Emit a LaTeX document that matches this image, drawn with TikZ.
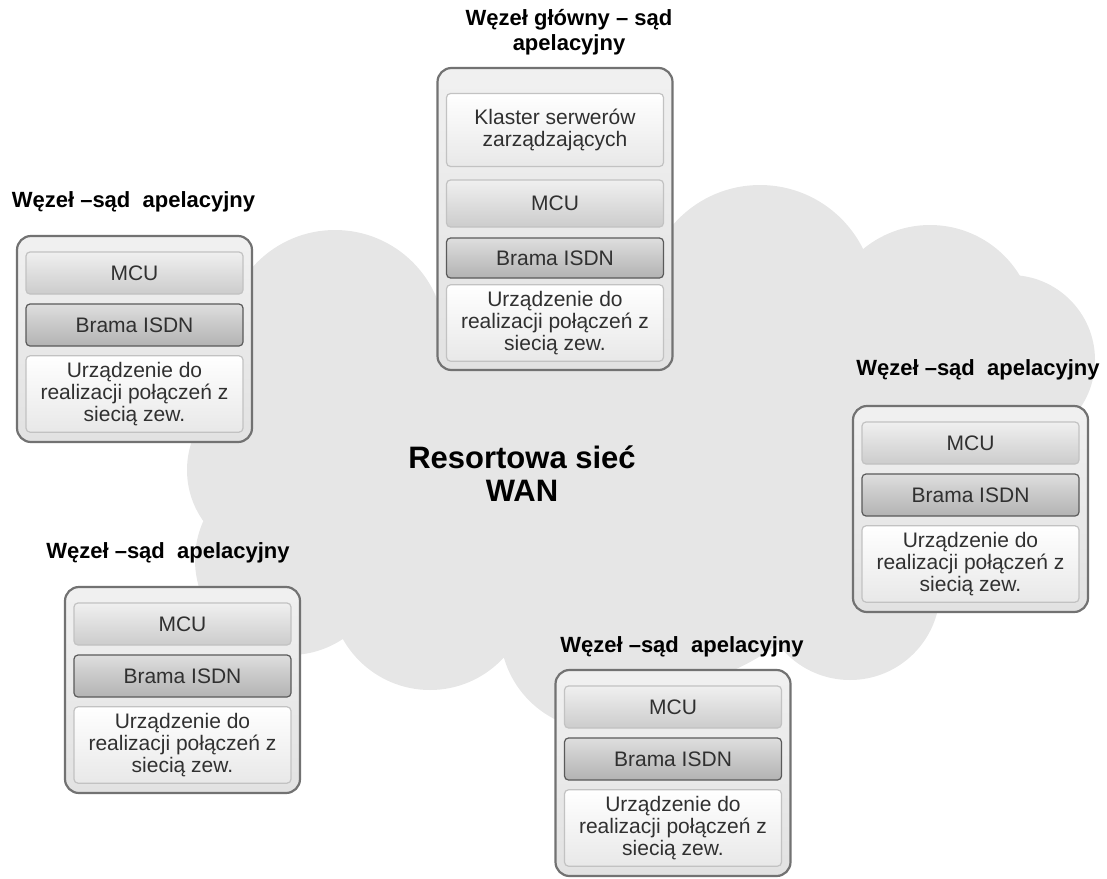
\documentclass[tikz,border=0pt]{standalone}
\usepackage{fontspec}
\setmainfont{Liberation Sans}

\definecolor{chmura}{HTML}{E6E6E6}
\definecolor{ramka}{HTML}{727272}
\definecolor{tlo}{HTML}{E2E2E2}
\definecolor{jasna}{HTML}{C2C2C2}
\definecolor{ciemna}{HTML}{5A5A5A}
\definecolor{napis}{HTML}{303030}

\tikzset{
	tytul/.style={font=\bfseries\fontsize{11}{12.5}\selectfont, align=center},
	wezel/.style={draw=ramka, line width=1.1pt, rounded corners=7pt, top color=tlo!50!white, bottom color=tlo, minimum width=117.5pt},
	blok/.style={draw=jasna, line width=0.6pt, rounded corners=2pt, text=napis, align=center, minimum width=108.5pt, font=\fontsize{10.5}{9.6}\selectfont},
	mcu/.style={blok, top color=white!94!black, bottom color=white!80!black},
	brama/.style={blok, draw=ciemna, top color=white!87!black, bottom color=white!70!black},
	urzadzenie/.style={blok, top color=white, bottom color=white!91!black},
}

\begin{document}
\begin{tikzpicture}[x=0.5pt,y=-0.5pt]
	\useasboundingbox (0,0) rectangle (1107,878);

	% chmura - resortowa siec
	\fill[chmura] (335,340) circle[radius=55pt] (560,300) circle[radius=55pt]
		(760,300) circle[radius=57.5pt] (930,330) circle[radius=52.5pt]
		(1010,360) circle[radius=42.5pt] (980,500) circle[radius=45pt]
		(850,590) circle[radius=45pt] (600,630) circle[radius=50pt]
		(430,590) circle[radius=50pt] (290,560) circle[radius=47.5pt]
		(275,470) circle[radius=44pt] (400,470) circle[radius=45pt]
		(640,460) circle[radius=115pt];

	\node[font=\bfseries\fontsize{15.5}{16.5}\selectfont, align=center] (wan) at (522,474) {Resortowa sieć\\WAN};

	% wezel glowny
	\node[tytul] (glowny-tytul) at (569,32) {Węzeł główny – sąd\\apelacyjny};
	\node[wezel, minimum height=151pt] (glowny) at (555,219) {};
	\node[urzadzenie, minimum height=36.5pt] (glowny-klaster) at (555,130) {Klaster serwerów\\[1pt]zarządzających};
	\node[mcu, minimum height=23.5pt] (glowny-mcu) at (555,203.5) {MCU};
	\node[brama, minimum height=20pt] (glowny-brama) at (555,258) {Brama ISDN};
	\node[urzadzenie, minimum height=37pt] (glowny-urz) at (555,323) {Urządzenie do\\realizacji połączeń z\\siecią zew.};

	% wezel lewy
	\node[tytul] (lewy-tytul) at (133.5,202) {Węzeł –sąd \ apelacyjny};
	\node[wezel, minimum height=103pt] (lewy) at (134.5,339) {};
	\node[mcu, minimum height=21pt] (lewy-mcu) at (134.5,273) {MCU};
	\node[brama, minimum height=21pt] (lewy-brama) at (134.5,325) {Brama ISDN};
	\node[urzadzenie, minimum height=38pt] (lewy-urz) at (134.5,394) {Urządzenie do\\realizacji połączeń z\\siecią zew.};

	% wezel prawy
	\node[tytul] (prawy-tytul) at (978,370) {Węzeł –sąd \ apelacyjny};
	\node[wezel, minimum height=103pt] (prawy) at (970.5,509) {};
	\node[mcu, minimum height=21pt] (prawy-mcu) at (970.5,443) {MCU};
	\node[brama, minimum height=21pt] (prawy-brama) at (970.5,495) {Brama ISDN};
	\node[urzadzenie, minimum height=38pt] (prawy-urz) at (970.5,564) {Urządzenie do\\realizacji połączeń z\\siecią zew.};

	% wezel dolny lewy
	\node[tytul] (dlewy-tytul) at (168,553) {Węzeł –sąd \ apelacyjny};
	\node[wezel, minimum height=103pt] (dlewy) at (182.5,690) {};
	\node[mcu, minimum height=21pt] (dlewy-mcu) at (182.5,624) {MCU};
	\node[brama, minimum height=21pt] (dlewy-brama) at (182.5,676) {Brama ISDN};
	\node[urzadzenie, minimum height=38pt] (dlewy-urz) at (182.5,745) {Urządzenie do\\realizacji połączeń z\\siecią zew.};

	% wezel dolny srodkowy
	\node[tytul] (dsrodek-tytul) at (682,647) {Węzeł –sąd \ apelacyjny};
	\node[wezel, minimum height=103pt] (dsrodek) at (673,773) {};
	\node[mcu, minimum height=21pt] (dsrodek-mcu) at (673,707) {MCU};
	\node[brama, minimum height=21pt] (dsrodek-brama) at (673,759) {Brama ISDN};
	\node[urzadzenie, minimum height=38pt] (dsrodek-urz) at (673,828) {Urządzenie do\\realizacji połączeń z\\siecią zew.};
\end{tikzpicture}
\end{document}
